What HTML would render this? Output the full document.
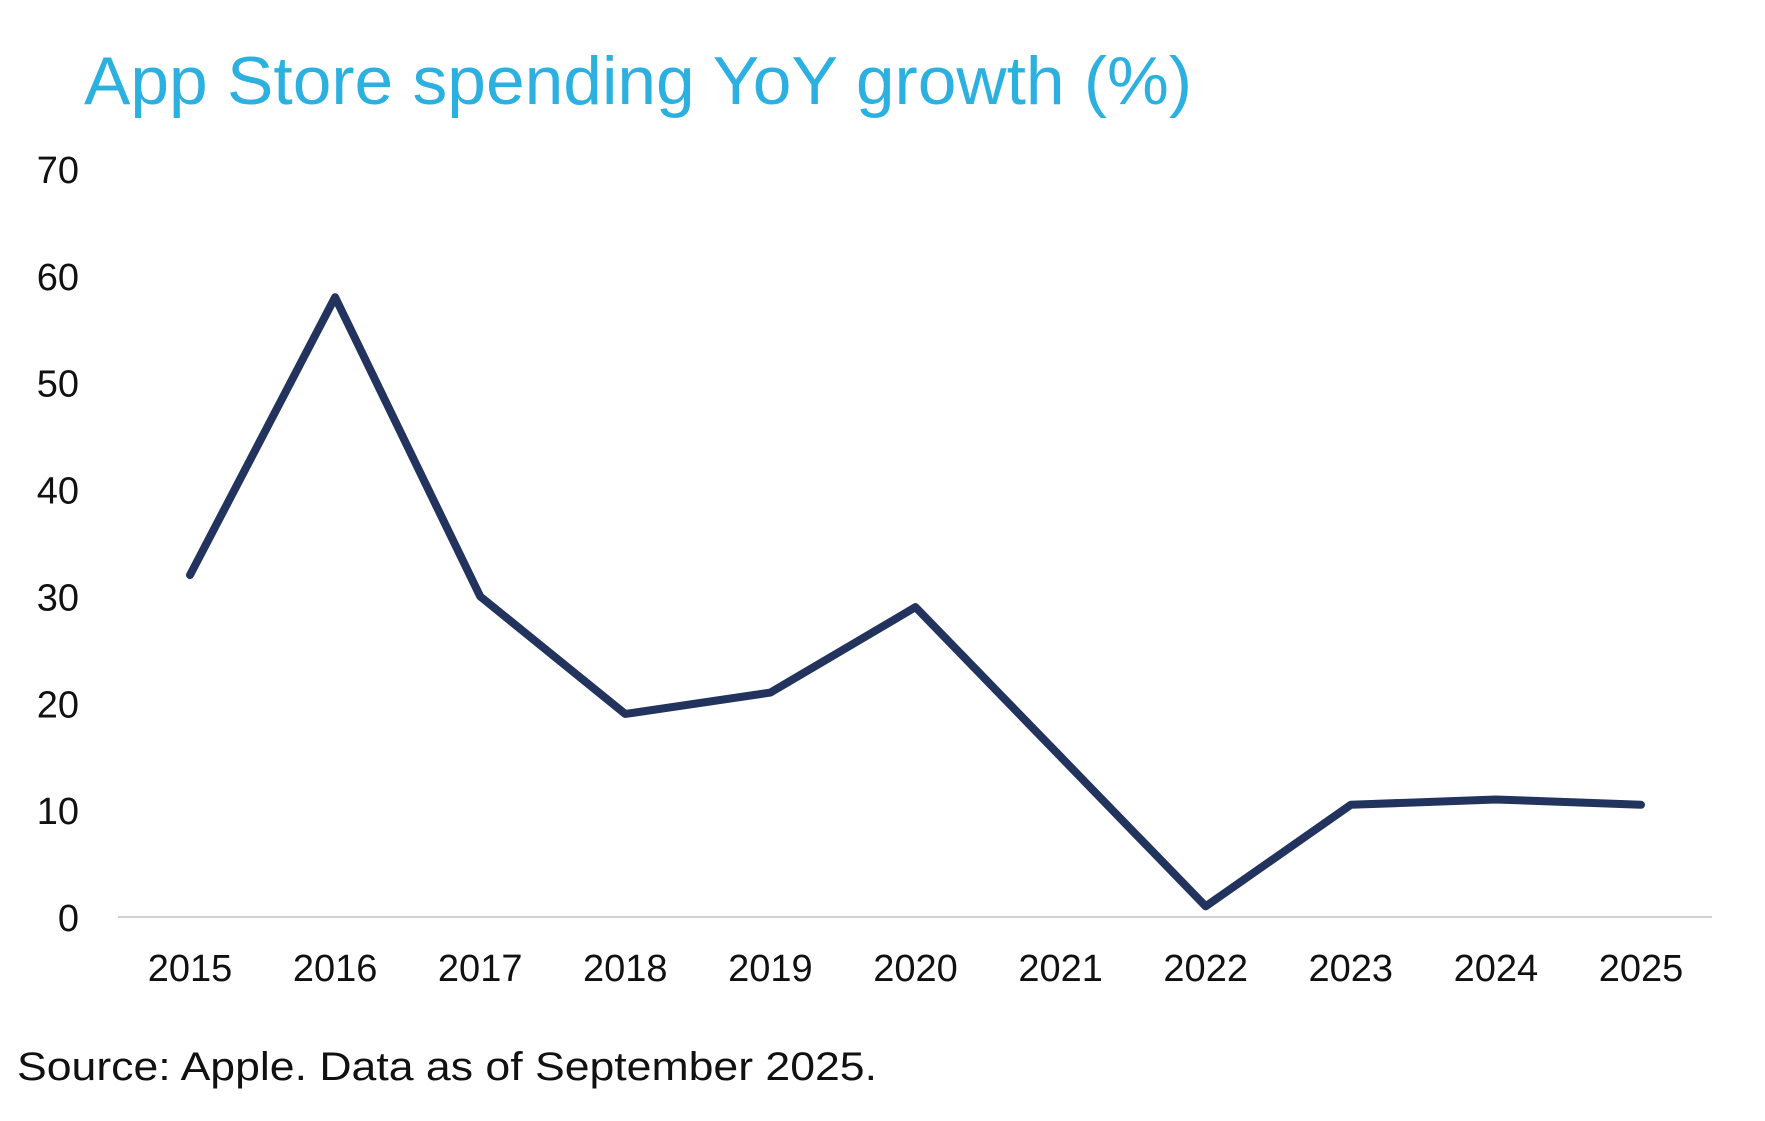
<!DOCTYPE html>
<html><head><meta charset="utf-8"><style>
html,body{margin:0;padding:0;background:#fff;}
svg{display:block;font-family:"Liberation Sans",sans-serif;}
</style></head><body>
<svg id="chart" width="1765" height="1121" viewBox="0 0 1765 1121">
<text x="84" y="104" font-size="68" fill="#2bb0e0" textLength="1108" lengthAdjust="spacingAndGlyphs">App Store spending YoY growth (%)</text>
<line x1="118" y1="917" x2="1712" y2="917" stroke="#d0d0d0" stroke-width="2"/>
<g id="yticks"></g><g id="xticks"></g><g id="series"></g>
<text x="17" y="1080" font-size="40" fill="#111" textLength="860" lengthAdjust="spacingAndGlyphs">Source: Apple. Data as of September 2025.</text>
</svg>
<script>
const categories=["2015","2016","2017","2018","2019","2020","2021","2022","2023","2024","2025"];
const values=[32,58,30,19,21,29,15,1,10.5,11,10.5];
const yTicks=[0,10,20,30,40,50,60,70];
const NS="http://www.w3.org/2000/svg";
function x(i){return 190+i*145.1;}
function y(v){return 917-v*(917-169)/70;}
const yg=document.getElementById('yticks');
yTicks.forEach(t=>{const e=document.createElementNS(NS,'text');


e.setAttribute('x',79);e.setAttribute('y',y(t)+14);e.setAttribute('text-anchor','end');
e.setAttribute('font-size','38');e.setAttribute('fill','#111');e.textContent=t;yg.appendChild(e);});
const xg=document.getElementById('xticks');
categories.forEach((c,i)=>{const e=document.createElementNS(NS,'text');


e.setAttribute('x',x(i));e.setAttribute('y',981);e.setAttribute('text-anchor','middle');
e.setAttribute('font-size','38');e.setAttribute('fill','#111');e.textContent=c;xg.appendChild(e);});
const p=document.createElementNS(NS,'polyline');


p.setAttribute('points',values.map((v,i)=>x(i)+','+y(v)).join(' '));
p.setAttribute('fill','none');p.setAttribute('stroke','#22335e');p.setAttribute('stroke-width','8');
p.setAttribute('stroke-linejoin','round');p.setAttribute('stroke-linecap','round');
document.getElementById('series').appendChild(p);
</script>
</body></html>
